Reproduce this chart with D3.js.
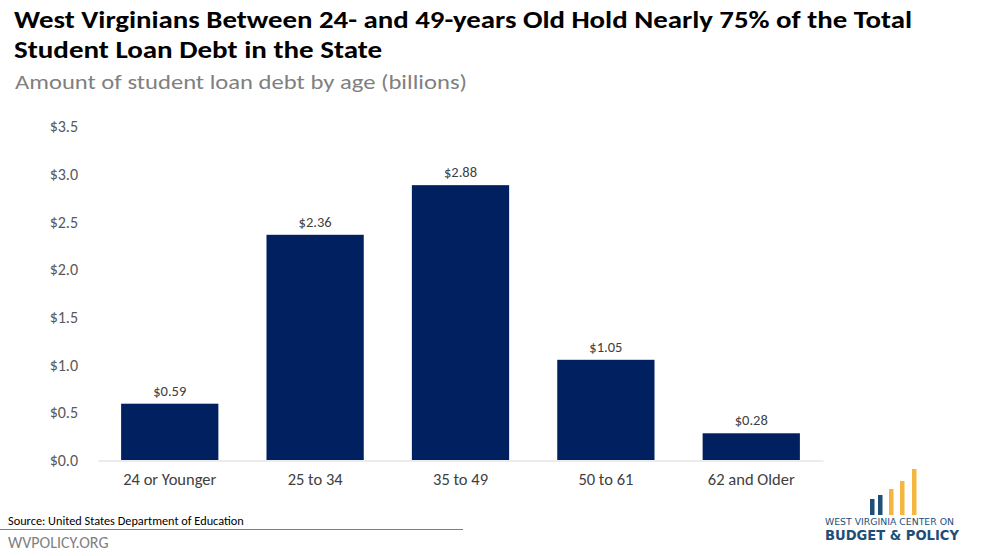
<!DOCTYPE html>
<html><head><meta charset="utf-8">
<script src="https://cdn.jsdelivr.net/npm/d3@7"></script>
<style>
body{margin:0;background:#fff;}
svg{display:block;}
text{font-family:Carlito, Calibri, "Open Sans", sans-serif;}
</style></head>
<body>
<svg id="c" width="988" height="556"></svg>
<script>
const categories = ["24 or Younger","25 to 34","35 to 49","50 to 61","62 and Older"];
const values = [0.59, 2.36, 2.88, 1.05, 0.28];
const yTicks = [0, 0.5, 1.0, 1.5, 2.0, 2.5, 3.0, 3.5];

const svg = d3.select("#c");

// Title
svg.append("text").attr("x",14).attr("y",28).attr("font-weight",700)
  .attr("font-size",23.5).attr("fill","#000").attr("textLength",898).attr("lengthAdjust","spacingAndGlyphs")
  .text("West Virginians Between 24- and 49-years Old Hold Nearly 75% of the Total");
svg.append("text").attr("x",14).attr("y",58).attr("font-weight",700)
  .attr("font-size",23.5).attr("fill","#000").attr("textLength",368).attr("lengthAdjust","spacingAndGlyphs")
  .text("Student Loan Debt in the State");
svg.append("text").attr("x",15).attr("y",89)
  .attr("font-size",20).attr("fill","#808080").attr("textLength",452).attr("lengthAdjust","spacingAndGlyphs")
  .text("Amount of student loan debt by age (billions)");

const x = d3.scaleBand().domain(categories).range([98,823]).paddingInner(0.331).paddingOuter(0.159);
const y = d3.scaleLinear().domain([0,3.5]).range([460,126]);

// y axis labels
const ya = svg.append("g").attr("transform","translate(78,0)")
  .call(d3.axisLeft(y).tickValues(yTicks).tickFormat(d=>"$"+d3.format(".1f")(d)).tickSize(0).tickPadding(0));
ya.select(".domain").remove();
ya.selectAll("text").attr("font-size",16).attr("fill","#595959").attr("dy","0.35em");

// bars
svg.selectAll("rect.bar").data(values).join("rect").attr("class","bar")
  .attr("x",(d,i)=>x(categories[i])).attr("width",x.bandwidth())
  .attr("y",d=>y(d)).attr("height",d=>y(0)-y(d)).attr("fill","#002060");

// value labels
svg.selectAll("text.val").data(values).join("text").attr("class","val")
  .attr("x",(d,i)=>x(categories[i])+x.bandwidth()/2).attr("y",d=>y(d)-8)
  .attr("text-anchor","middle").attr("font-size",14.5).attr("fill","#404040")
  .text(d=>"$"+d3.format(".2f")(d));

// x axis
const xa = svg.append("g").attr("transform","translate(0,460.5)")
  .call(d3.axisBottom(x).tickSize(0).tickPadding(13));
xa.select(".domain").attr("stroke","#d9d9d9").attr("stroke-width",1);
xa.selectAll("text").attr("font-size",16.5).attr("fill","#404040");

// source
svg.append("text").attr("x",8).attr("y",525).attr("font-size",12.3).attr("fill","#000")
  .text("Source: United States Department of Education");
svg.append("line").attr("x1",0).attr("x2",463).attr("y1",529.5).attr("y2",529.5).attr("stroke","#7f7f7f").attr("stroke-width",1);
svg.append("text").attr("x",8).attr("y",548).attr("font-size",16).attr("fill","#7f7f7f")
  .text("WVPOLICY.ORG");

// logo
const logo = svg.append("g");
const lb = [[870,499,"#1f4e79"],[878,495,"#1f4e79"],[889,489,"#f4b63f"],[900,481,"#f4b63f"],[912,469,"#f4b63f"]];
lb.forEach(b=>logo.append("rect").attr("x",b[0]).attr("y",b[1]).attr("width",4.5).attr("height",515-b[1]).attr("fill",b[2]));
logo.append("text").attr("x",825).attr("y",525).attr("style","font-family:'DejaVu Sans',sans-serif").attr("font-size",9.5)
  .attr("fill","#1f4e79").attr("textLength",129).attr("lengthAdjust","spacingAndGlyphs").text("WEST VIRGINIA CENTER ON");
logo.append("text").attr("x",825).attr("y",540).attr("style","font-family:'DejaVu Sans',sans-serif").attr("font-weight",700).attr("font-size",14)
  .attr("fill","#1f4e79").attr("textLength",134).attr("lengthAdjust","spacingAndGlyphs").text("BUDGET & POLICY");
</script>
</body></html>
